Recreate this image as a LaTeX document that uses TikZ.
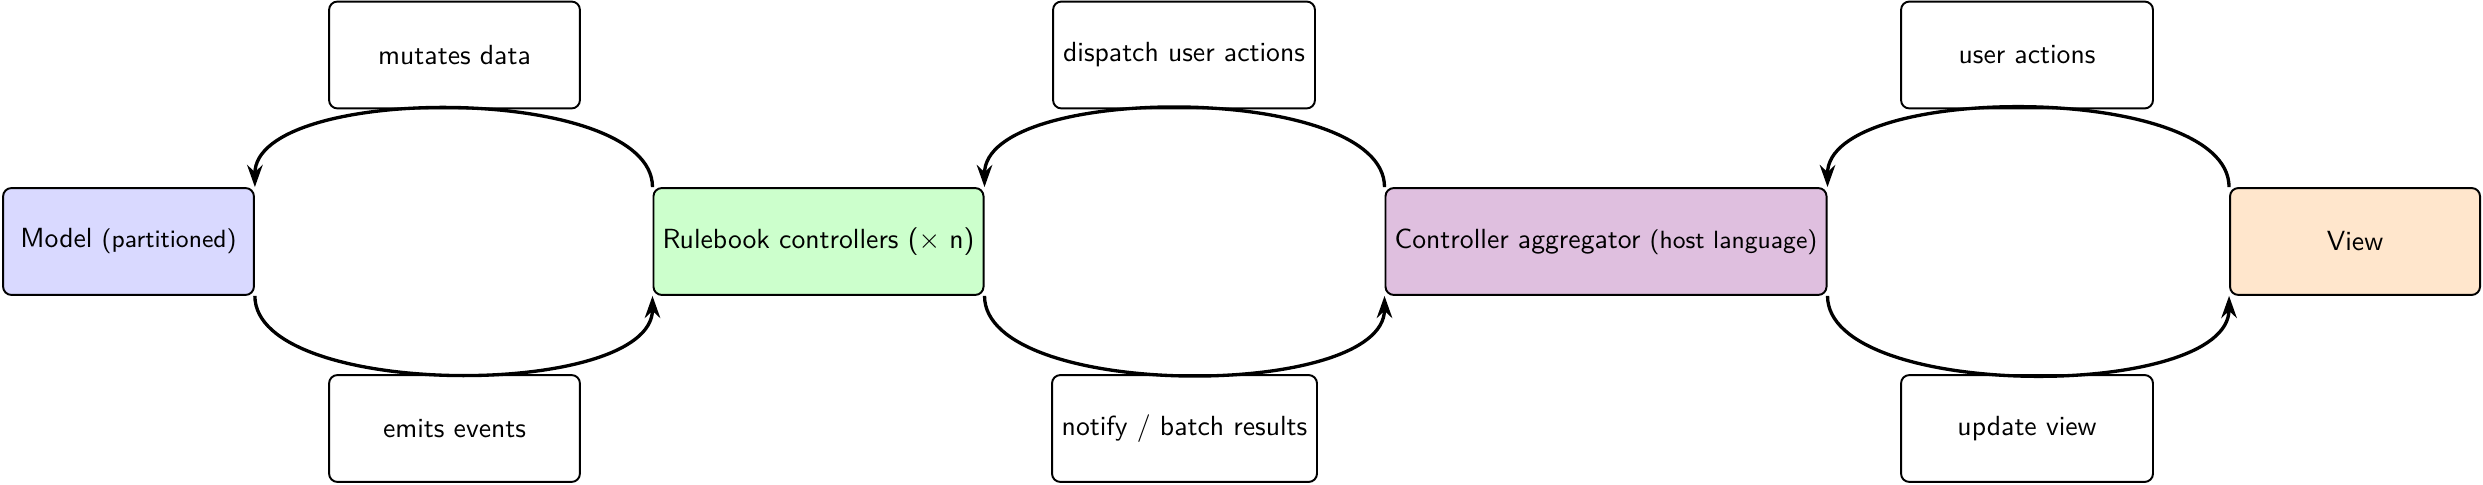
\documentclass[tikz,border=0pt]{standalone}
\usetikzlibrary{arrows.meta}
\begin{document}
\begin{tikzpicture}[x=0.3612pt,y=0.3612pt,
  font=\sffamily,
  box/.style={draw=black, line width=0.7pt, rounded corners=3pt, align=center,
    minimum height=38.6pt, inner sep=3.3pt},
  lbl/.style={box, fill=white},
  conn/.style={line width=1.2pt, -{Stealth[length=8pt,width=5.6pt]}}
]
\useasboundingbox (0,0) rectangle (2483,484);
\definecolor{cmodel}{RGB}{217,217,255}
\definecolor{crule}{RGB}{204,255,204}
\definecolor{cagg}{RGB}{223,191,223}
\definecolor{cview}{RGB}{255,230,204}
% main boxes
\node[box, fill=cmodel, minimum width=90.6pt] (model) at (128.5,242.5) {Model {\small(partitioned)}};
\node[box, fill=crule, minimum width=118.2pt] (rule) at (818.5,242.5) {Rulebook controllers ($\times$ n)};
\node[box, fill=cagg, minimum width=158.9pt] (agg) at (1606,242.5) {Controller aggregator {\small(host language)}};
\node[box, fill=cview, minimum width=90.3pt] (view) at (2355,242.5) {View};
% label boxes
\node[lbl, minimum width=90.6pt] (mut) at (454.5,429) {mutates data};
\node[lbl, minimum width=94.6pt] (disp) at (1184,429) {dispatch user actions};
\node[lbl, minimum width=91pt] (ua) at (2027,429) {user actions};
\node[lbl, minimum width=90.6pt] (emit) at (454.5,55.5) {emits events};
\node[lbl, minimum width=95.7pt] (notify) at (1184.5,55.5) {notify / batch results};
\node[lbl, minimum width=91pt] (upd) at (2027,55.5) {update view};
% connectors
\draw[conn] (rule.north west) to[out=90,in=90,looseness=0.67] (model.north east);
\draw[conn] (model.south east) to[out=-90,in=-90,looseness=0.67] (rule.south west);
\draw[conn] (agg.north west) to[out=90,in=90,looseness=0.67] (rule.north east);
\draw[conn] (rule.south east) to[out=-90,in=-90,looseness=0.67] (agg.south west);
\draw[conn] (view.north west) to[out=90,in=90,looseness=0.67] (agg.north east);
\draw[conn] (agg.south east) to[out=-90,in=-90,looseness=0.67] (view.south west);
\end{tikzpicture}
\end{document}
